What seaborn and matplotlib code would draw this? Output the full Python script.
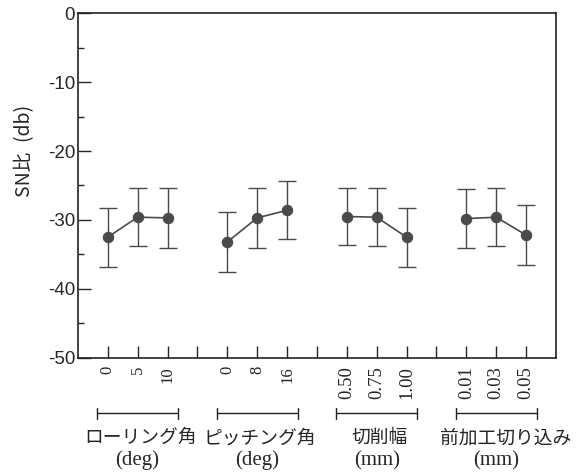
import numpy as np
import pandas as pd
import seaborn as sns
import matplotlib.pyplot as plt

# factor levels and SN ratio (db) per level
groups = ['ローリング角', 'ピッチング角', '切削幅', '前加工切り込み']
units = ['(deg)', '(deg)', '(mm)', '(mm)']
levels = [['0', '5', '10'], ['0', '8', '16'],
          ['0.50', '0.75', '1.00'], ['0.01', '0.03', '0.05']]
sn_roll = [-32.5, -29.6, -29.7]
sn_pitch = [-33.2, -29.7, -28.6]
sn_width = [-29.5, -29.6, -32.5]
sn_depth = [-29.8, -29.6, -32.2]
err_roll = [4.3, 4.2, 4.3]
err_pitch = [4.3, 4.3, 4.2]
err_width = [4.2, 4.2, 4.3]
err_depth = [4.3, 4.2, 4.3]

sn_all = [sn_roll, sn_pitch, sn_width, sn_depth]
err_all = [err_roll, err_pitch, err_width, err_depth]

rows = []
for g, name in enumerate(groups):
    for i, lab in enumerate(levels[g]):
        rows.append({'group': name, 'pos': g * 4 + i + 1, 'level': lab,
                     'sn': sn_all[g][i], 'err': err_all[g][i]})
df = pd.DataFrame(rows)

sns.set_style('ticks')
plt.rcParams['font.family'] = ['Noto Sans CJK JP', 'DejaVu Sans']
plt.rcParams['axes.unicode_minus'] = False

fig = plt.figure(figsize=(5.81, 4.72), dpi=100)
ax = fig.add_axes([0.134, 0.242, 0.823, 0.730])

col = '#4a4a4a'
ax.errorbar(df['pos'], df['sn'], yerr=df['err'], fmt='none', ecolor=col,
            elinewidth=1.0, capsize=6.5, capthick=1.0, zorder=2)
sns.lineplot(data=df, x='pos', y='sn', units='group', estimator=None,
             color=col, linewidth=1.2, marker='o', markersize=7.5,
             markeredgecolor=col, markerfacecolor=col, ax=ax, zorder=3)

ax.set_xlim(0, 16)
ax.set_ylim(-50, 0)
ax.set_yticks(np.arange(-50, 1, 10))
ax.set_yticks(np.arange(-45, 0, 10), minor=True)
ax.set_xticks(np.arange(1, 16))
xlabels = []
for g in range(4):
    xlabels += levels[g] + ([''] if g < 3 else [])
ax.set_xticklabels(xlabels, rotation=90, family='Liberation Serif')
for k, lab in enumerate(ax.get_xticklabels()):
    lab.set_fontsize(12 if k < 8 else 13.5)
ax.tick_params(axis='x', direction='in', length=9, width=1.0, pad=6)
ax.tick_params(axis='y', which='major', direction='in', length=9, width=1.0,
               labelsize=13.5, pad=2)
ax.tick_params(axis='y', which='minor', direction='in', length=4, width=1.0)
for lab in ax.get_yticklabels():
    lab.set_family('Liberation Sans')
for s in ax.spines.values():
    s.set_linewidth(1.2)
    s.set_color('#222222')

ax.set_xlabel('')
ax.set_ylabel('SN比\u2002(db)', fontsize=14)
ax.yaxis.set_label_coords(-0.09, 0.60)

# group brackets and labels under the axis
tr = ax.get_xaxis_transform()
for g in range(4):
    x0 = g * 4 + 1 - 0.35
    x1 = g * 4 + 3 + 0.35
    xc = g * 4 + 2
    ax.plot([x0, x1], [-0.16, -0.16], color='#222222', lw=1.0,
            transform=tr, clip_on=False)
    for xe in (x0, x1):
        ax.plot([xe, xe], [-0.145, -0.178], color='#222222', lw=1.0,
                transform=tr, clip_on=False)
    ax.text(xc + (0.3 if g == 3 else 0.1), -0.232, groups[g], transform=tr,
            ha='center', va='center', fontsize=13.5)
    ax.text(xc, -0.298, units[g], transform=tr, ha='center', va='center',
            fontsize=15, family='Liberation Serif')

fig.savefig('out.png', dpi=100)
